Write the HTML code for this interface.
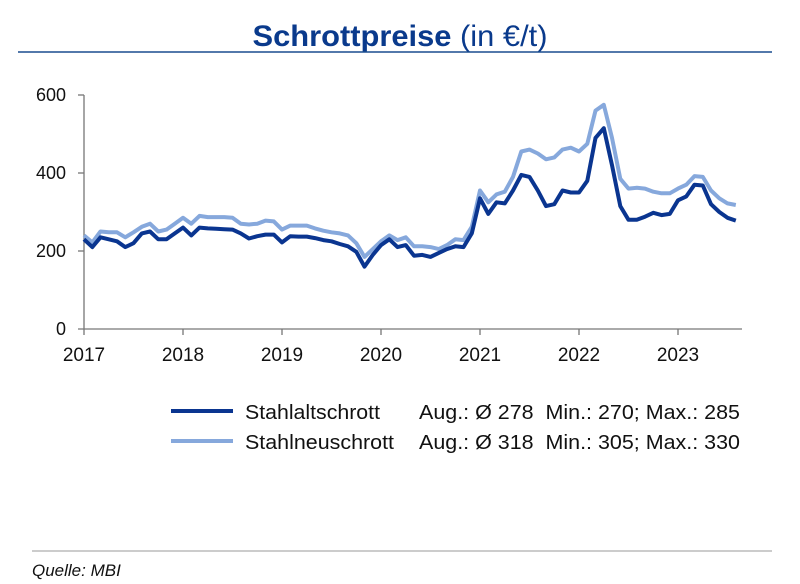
<!DOCTYPE html>
<html><head><meta charset="utf-8"><style>
body{margin:0;background:#fff;}
svg{display:block;font-family:"Liberation Sans",Arial,sans-serif;}
</style></head><body>
<svg id="s" width="800" height="584" viewBox="0 0 800 584">
<text x="400" y="46" text-anchor="middle" font-size="30" fill="#0a3a8c" textLength="295" lengthAdjust="spacingAndGlyphs"><tspan font-weight="bold">Schrottpreise</tspan> (in €/t)</text>
<line x1="18" y1="52" x2="772" y2="52" stroke="#1a4d8f" stroke-width="1.5"/>
<g font-size="18" fill="#111">
<text x="66" y="101" text-anchor="end">600</text>
<text x="66" y="179" text-anchor="end">400</text>
<text x="66" y="257" text-anchor="end">200</text>
<text x="66" y="335" text-anchor="end">0</text>
</g>
<g stroke="#777" stroke-width="1.3" fill="none">
<line x1="84" y1="95" x2="84" y2="329"/>
<line x1="78" y1="329" x2="742" y2="329"/>
<line x1="78" y1="95" x2="84" y2="95"/>
<line x1="78" y1="173" x2="84" y2="173"/>
<line x1="78" y1="251" x2="84" y2="251"/>
</g>
<g id="ticks" stroke="#777" stroke-width="1.3"></g>
<g font-size="19" fill="#111" text-anchor="middle" id="yl"></g>
<polyline id="l2" fill="none" stroke="#86a8dc" stroke-width="4" stroke-linejoin="round"/>
<polyline id="l1" fill="none" stroke="#0a3590" stroke-width="4" stroke-linejoin="round"/>
<line x1="171" y1="411" x2="233" y2="411" stroke="#0a3590" stroke-width="4"/>
<line x1="171" y1="441" x2="233" y2="441" stroke="#86a8dc" stroke-width="4"/>
<g font-size="20" fill="#111">
<text x="245" y="419" textLength="135" lengthAdjust="spacingAndGlyphs">Stahlaltschrott</text>
<text x="245" y="449" textLength="149" lengthAdjust="spacingAndGlyphs">Stahlneuschrott</text>
<text x="419" y="419" xml:space="preserve" textLength="321" lengthAdjust="spacingAndGlyphs">Aug.: Ø 278  Min.: 270; Max.: 285</text>
<text x="419" y="449" xml:space="preserve" textLength="321" lengthAdjust="spacingAndGlyphs">Aug.: Ø 318  Min.: 305; Max.: 330</text>
</g>
<line x1="32" y1="551" x2="772" y2="551" stroke="#bbb" stroke-width="1.5"/>
<text x="32" y="576" font-size="17" font-style="italic" fill="#111">Quelle: MBI</text>
</svg>
<script>
var d1=[230,210,235,230,225,210,220,245,250,230,230,245,260,240,260,258,257,256,255,245,232,238,242,242,222,238,237,237,233,228,225,218,212,198,160,190,215,230,210,215,188,190,185,195,205,212,210,245,335,295,325,322,355,395,390,355,315,320,355,350,350,380,490,515,420,315,280,280,288,298,292,295,330,340,370,368,320,300,285,278];
var d2=[240,222,250,248,248,235,248,262,270,250,255,270,285,270,290,287,287,287,285,270,268,270,278,276,255,265,265,265,258,252,248,245,240,220,185,205,225,240,228,235,212,212,210,205,215,230,228,262,355,325,345,352,390,455,460,450,435,440,460,465,455,475,560,575,490,385,360,362,360,352,348,348,360,370,392,390,355,335,322,318];
function pts(d){return d.map(function(v,i){return (84+i*99/12).toFixed(1)+","+(329-v*0.39).toFixed(1)}).join(" ");}
document.getElementById("l1").setAttribute("points",pts(d1));
document.getElementById("l2").setAttribute("points",pts(d2));
var t="",l="";
for(var y=0;y<7;y++){var x=84+99*y;t+='<line x1="'+x+'" y1="329" x2="'+x+'" y2="335"/>';l+='<text x="'+x+'" y="361">'+(2017+y)+'</text>';}
document.getElementById("ticks").innerHTML=t;document.getElementById("yl").innerHTML=l;
</script>
</body></html>
